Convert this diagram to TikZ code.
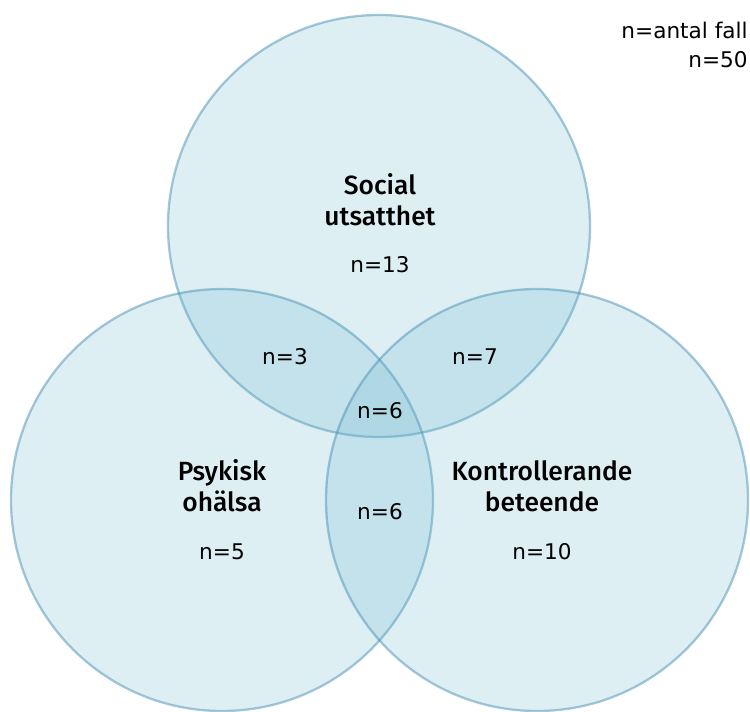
\documentclass[tikz,border=0pt]{standalone}
\usepackage{fontspec}
\setmainfont{DejaVu Sans}
\newfontfamily\titlefont{Fira Sans}[UprightFont=* Medium]
\definecolor{vennfill}{RGB}{98,179,203}
\definecolor{vennline}{RGB}{75,145,181}
\tikzset{
  vset/.style    = {circle, minimum size=422*0.02cm, inner sep=0pt,
                    fill=vennfill, fill opacity=0.21,
                    draw=vennline, draw opacity=0.5, line width=1.3pt},
  vtitle/.style  = {font=\titlefont\fontsize{15}{17.5}\selectfont, align=center, text=black},
  vcount/.style  = {font=\fontsize{12.3}{14}\selectfont, text=black},
  vnote/.style   = {vcount, anchor=east, inner sep=0pt},
}

\begin{document}
\begin{tikzpicture}[x=0.02cm, y=-0.02cm]
  \useasboundingbox (0,0) rectangle (750,711);
  % the three sets
  \node[vset] (social)   at (379,226) {};
  \node[vset] (psykisk)  at (222,500) {};
  \node[vset] (kontroll) at (537,500) {};
  % names of the sets
  \node[vtitle] (socialnamn)   at (380,200) {Social\\utsatthet};
  \node[vtitle] (psykisknamn)  at (222,486) {Psykisk\\ohälsa};
  \node[vtitle] (kontrollnamn) at (542,486) {Kontrollerande\\beteende};
  % counts
  \node[vcount] (nsocial)   at (380,265) {n=13};
  \node[vcount] (npsykisk)  at (222,552) {n=5};
  \node[vcount] (nkontroll) at (542,552) {n=10};
  \node[vcount] (nsp)       at (285,357) {n=3};
  \node[vcount] (nsk)       at (475,357) {n=7};
  \node[vcount] (nall)      at (380,411) {n=6};
  \node[vcount] (npk)       at (380,512) {n=6};
  % legend
  \node[vnote] (antal) at (748,30) {n=antal fall};
  \node[vnote] (total) at (748,60) {n=50};
\end{tikzpicture}
\end{document}
